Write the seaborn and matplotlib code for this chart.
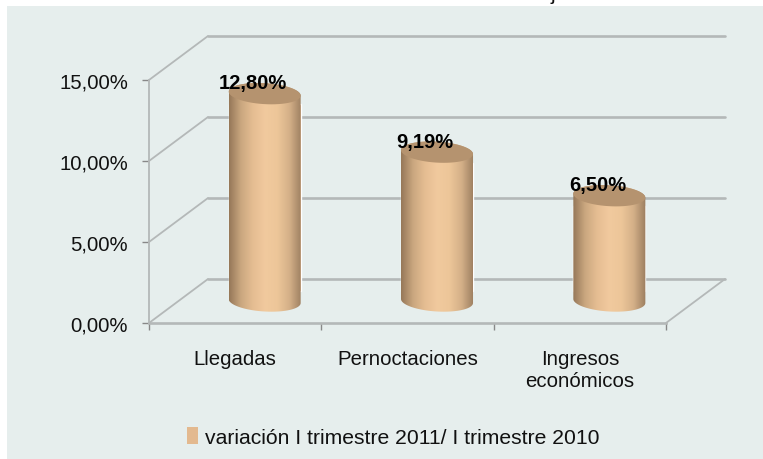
import numpy as np
import pandas as pd
import matplotlib
matplotlib.use("Agg")
import matplotlib.pyplot as plt
import seaborn as sns
from matplotlib.colors import LinearSegmentedColormap
from matplotlib.patches import Patch, PathPatch, Polygon, Rectangle
from matplotlib.path import Path

categories = ["Llegadas", "Pernoctaciones", "Ingresos\neconómicos"]
values = [12.80, 9.19, 6.50]
value_labels = ["12,80%", "9,19%", "6,50%"]
y_ticks = [0, 5, 10, 15]
y_tick_labels = ["0,00%", "5,00%", "10,00%", "15,00%"]
legend_label = "variación I trimestre 2011/ I trimestre 2010"

W, H = 763, 460
BG = "#E6EEED"
GRID = "#B4B8B8"
BAR = "#E3B98F"
TOP = "#B5936F"

sns.set_theme(style="white")
plt.rcParams["font.family"] = ["Liberation Sans", "DejaVu Sans"]

fig = plt.figure(figsize=(W / 100, H / 100), dpi=100, facecolor="white")
fig.patches.append(Rectangle((7 / W, 0), 1, 1 - 7 / H, transform=fig.transFigure,
                             facecolor=BG, edgecolor="none", zorder=-5))
# cut off end of the original title
fig.text(553 / W, 1, "j", fontsize=15, ha="center", va="baseline", color="#111111")

ax = fig.add_axes([149 / W, (H - 324) / H, 517 / W, 243 / H])
ax.patch.set_visible(False)

df = pd.DataFrame({"categoria": categories, "variacion": values})
sns.barplot(data=df, x="categoria", y="variacion", color=BAR, saturation=1,
            width=72 / 172.3, ax=ax, zorder=3)
ax.set_xlim(-0.5, 2.5)
ax.set_ylim(0, 15)

# depth of the 3d box, in data units
px_x = 3 / 517
px_y = 15 / 243
depth_x = 59 * px_x
depth_y = 44 * px_y

for tick in y_ticks:
    ax.plot([-0.5, -0.5 + depth_x], [tick, tick + depth_y], color=GRID, lw=1.3, clip_on=False, zorder=1)
    ax.plot([-0.5 + depth_x, 2.5 + depth_x], [tick + depth_y, tick + depth_y], color=GRID, lw=1.9,
            clip_on=False, zorder=1)
ax.plot([2.5, 2.5 + depth_x], [0, depth_y], color=GRID, lw=1.3, clip_on=False, zorder=1)

# shade the bars as cylinders
cyl = LinearSegmentedColormap.from_list(
    "cyl", ["#967859", "#CBA880", "#E6BE93", "#F1CA9E", "#EDC699", "#D4B088", "#9C7E60"])
ry = 10.5 * px_y
tilt = -(2 * px_y) / (36 * px_x)   # ellipses lean up to the right


def ring(xc, yc, w, start, stop):
    t = np.linspace(start, stop, 60)
    xs = xc + w / 2 * np.cos(t)
    return np.column_stack([xs, yc + ry * np.sin(t) + tilt * (xs - xc)])


for bar, val, lab in zip(ax.patches, values, value_labels):
    x0 = bar.get_x() + depth_x / 2
    w = bar.get_width()
    base = depth_y / 2
    xc = x0 + w / 2
    top = base + val
    # keep the flat bar inside the round body, the shading goes on top of it
    bar.set_x(x0)
    bar.set_y(base + ry)
    bar.set_height(val - 2 * ry)
    bar.set_clip_on(False)

    outline = np.vstack([ring(xc, base, w, np.pi, 2 * np.pi), ring(xc, top, w, 0, np.pi)])
    clip = PathPatch(Path(np.vstack([outline, outline[0]])), transform=ax.transData,
                     facecolor="none", edgecolor="none", clip_on=False)
    ax.add_patch(clip)
    im = ax.imshow(np.linspace(0, 1, 128)[None, :], extent=[x0, x0 + w, base - 2 * ry, top + 2 * ry],
                   cmap=cyl, aspect="auto", zorder=4, interpolation="bilinear")
    im.set_clip_path(clip)

    ax.add_patch(Polygon(ring(xc, top, w, 0, 2 * np.pi), facecolor=TOP, edgecolor="none",
                         zorder=5, clip_on=False))

    ax.annotate(lab, (xc, top), xytext=(-12 * 0.72, 11 * 0.72), textcoords="offset points",
                ha="center", va="center", fontsize=14.5, fontweight="bold", color="black",
                zorder=6, annotation_clip=False)

ax.set_xlim(-0.5, 2.5)
ax.set_ylim(0, 15)

for side in ["top", "right"]:
    ax.spines[side].set_visible(False)
ax.spines["left"].set_color(GRID)
ax.spines["left"].set_linewidth(1.3)
ax.spines["bottom"].set_color(GRID)
ax.spines["bottom"].set_linewidth(1.9)

ax.set_yticks(y_ticks)
ax.set_yticklabels(y_tick_labels)
ax.tick_params(axis="y", left=True, length=5, width=1, color="#888888", pad=10, labelsize=14.7, labelcolor="#111111")
ax.set_xticks(range(len(categories)))
ax.set_xticklabels(categories, linespacing=1.15)
ax.tick_params(axis="x", bottom=False, pad=13, labelsize=14.7, labelcolor="#111111")
ax.set_xticks([-0.5, 0.5, 1.5, 2.5], minor=True)
ax.tick_params(axis="x", which="minor", bottom=True, length=5, width=1, color="#888888")
ax.set_xlabel("")
ax.set_ylabel("")
for lbl in ax.get_xticklabels():
    lbl.set_x(lbl.get_position()[0])

fig.legend(handles=[Patch(facecolor=BAR, edgecolor="none", label=legend_label)],
           loc="center", bbox_to_anchor=(393 / W, (H - 438) / H), frameon=False, fontsize=15.2,
           handlelength=0.55, handleheight=0.85, handletextpad=0.3, labelcolor="#111111")

fig.savefig("out.png", dpi=100, facecolor="white")
